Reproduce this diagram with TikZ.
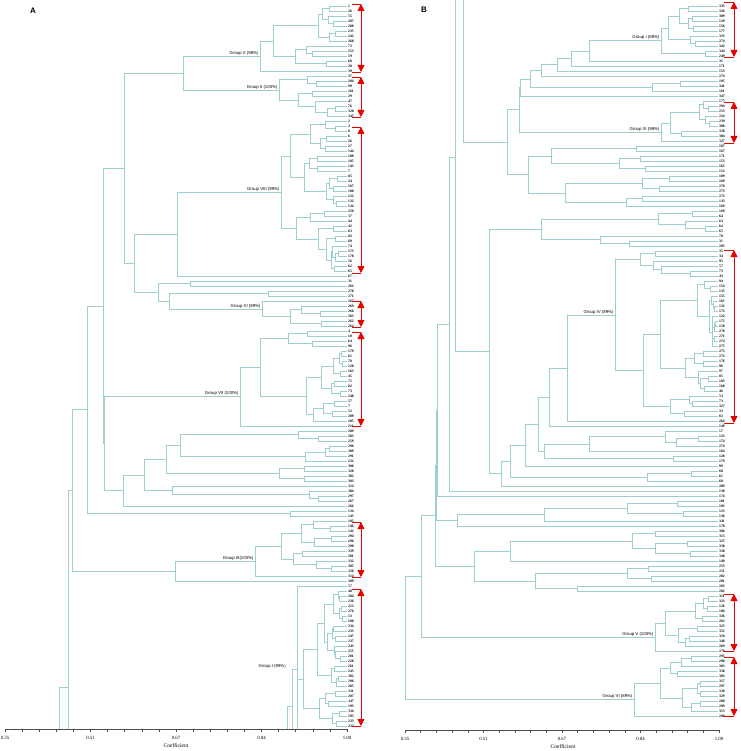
\documentclass[tikz,border=0pt]{standalone}
\usepackage{fontspec}
\setmainfont{Liberation Serif}
\newfontfamily\sansf{Liberation Sans}
\usetikzlibrary{calc,arrows.meta}
\definecolor{treec}{RGB}{158,206,206}
\definecolor{arrc}{RGB}{230,0,0}
% join two children at x = #2 ; new coordinate #1
\newcommand\djn[4]{%
  \coordinate (jx) at (#2,0);%
  \draw[tln] (#3) -- (#3 -| jx) -- (#4 -| jx) -- (#4);%
  \coordinate (#1) at ($(#3 -| jx)!0.5!(#4 -| jx)$);}
% generate a cluster over leaves #2#3 .. #2#4 with root at x = #5
\newcommand\dgen[5]{%
  \ifnum#3=#4\relax
    \coordinate (#1) at (#2#3);%
  \else
    \pgfmathsetmacro\gsp{int(#3+floor((#4-#3)*(0.2+0.6*rnd)))}%
    \pgfmathsetmacro\gxa{#5+(\gxmax-#5)*(0.12+0.55*rnd)}%
    \pgfmathsetmacro\gxb{#5+(\gxmax-#5)*(0.12+0.55*rnd)}%
    \edef\gnext{\noexpand\dgen{#1a}{#2}{#3}{\gsp}{\gxa}\noexpand\dgen{#1b}{#2}{\the\numexpr\gsp+1\relax}{#4}{\gxb}\noexpand\djn{#1}{#5}{#1a}{#1b}}%
    \gnext
  \fi}
\newcommand\redarr[4]{%
  \draw[ra] (#2,#3) -- (#1,#3) (#2,#4) -- (#1,#4);%
  \draw[ra,{Triangle[width=7pt,length=7pt]}-{Triangle[width=7pt,length=7pt]}] (#1,#3) -- (#1,#4);}
\begin{document}
\begin{tikzpicture}[x=1pt,y=-1pt,
  tln/.style={draw=treec,line width=0.55pt},
  lflab/.style={anchor=west,inner sep=0pt,font=\bfseries\fontsize{3.7}{3.7}\selectfont},
  grplab/.style={anchor=south east,inner sep=0.6pt,font=\sansf\fontsize{4.3}{4.3}\selectfont},
  axln/.style={draw=black!70,line width=0.5pt},
  ticklab/.style={font=\fontsize{4.8}{4.8}\selectfont,inner sep=0pt},
  ra/.style={draw=arrc,line width=0.8pt}]
\useasboundingbox (0,0) rectangle (740,751);
\fill[white] (0,0) rectangle (740,751);
\pgfmathsetseed{11}
% ---------------- leaves panel A
\foreach \t [count=\k] in {1,26,55,287,288,235,242,268,73,253,59,60,28,39,
 37,284,99,161,29,47,76,320,345,
 2,3,8,6,26,27,144,108,105,143,7,85,24,167,100,122,132,124,250,37,44,42,63,83,69,74,173,178,56,62,65,
 67,31,262,270,271,
 267,269,268,263,262,264,
 4,10,64,96,179,61,78,128,163,45,71,82,73,248,57,7,52,209,205,211,
 289,283,259,296,309,291,232,300,328,302,303,314,304,297,267,266,134,143,
 105,146,142,294,296,298,339,281,332,305,320,314,389,
 57,48,284,236,213,276,53,100,334,233,247,237,243,255,281,228,261,245,302,296,285,331,287,347,193,334,193,233,232}
 {\coordinate (a\k) at (346.5,{1+5*\k});
  \node[lflab] (la\k) at (348,{1+5*\k}) {\t};}
% ---------------- leaves panel B
\foreach \t [count=\k] in {333,336,309,129,156,177,333,274,342,344,249,
 31,171,153,274,195,341,161,347,
 177,294,253,224,239,308,338,304,327,
 187,167,171,153,165,152,189,169,278,273,272,133,169,169,64,63,64,65,78,31,205,
 35,34,95,57,73,43,94,154,135,155,165,132,173,122,175,158,278,271,274,275,273,272,176,96,97,85,183,168,46,53,73,327,33,61,264,
 149,17,123,174,274,164,128,179,99,60,61,68,209,138,174,101,103,123,136,341,178,306,315,325,330,338,340,149,253,251,202,201,203,202,
 311,323,126,106,336,263,325,352,318,348,269,278,
 295,290,303,330,303,317,297,330,329,288,299,313,288}
 {\coordinate (b\k) at (717.5,{1+5*\k});
  \node[lflab] (lb\k) at (719,{1+5*\k}) {\t};}
% ---------------- tree panel A
\def\gxmax{344}
\dgen{q1}{a}{1}{13}{273}
\djn{GX}{260}{q1}{a14}
\dgen{q2}{a}{15}{23}{279}
\djn{J1}{183}{GX}{q2}
\dgen{q3}{a}{24}{41}{290}
\dgen{q4}{a}{42}{54}{296}
\djn{GVIII}{281}{q3}{q4}
\djn{N177}{177}{GVIII}{a55}
\djn{P190}{190}{a56}{a57}
\djn{P268}{268}{a58}{a59}
\dgen{q5}{a}{61}{65}{290}
\djn{GXI}{262}{a60}{q5}
\djn{N169}{169}{P268}{GXI}
\djn{N158}{158}{P190}{N169}
\djn{J3}{134}{N177}{N158}
\djn{J2}{124}{J1}{J3}
\dgen{q6}{a}{66}{84}{260}
\djn{GVII}{240}{q6}{a85}
\dgen{q7}{a}{86}{88}{298}
\dgen{q8}{a}{89}{92}{305}
\dgen{q10}{a}{93}{96}{279}
\djn{N1}{180}{q7}{q8}
\djn{N1b}{166}{N1}{q10}
\dgen{q11}{a}{98}{100}{309}
\djn{N3}{172}{a97}{q11}
\djn{N2}{144}{N1b}{N3}
\djn{J7}{123}{N2}{a101}
\djn{J6}{104}{GVII}{J7}
\djn{J5}{103}{J2}{J6}
\djn{P134}{290}{a102}{a103}
\djn{N87}{87}{J5}{P134}
\dgen{q12}{a}{104}{114}{281}
\djn{GIII}{255}{q12}{a115}
\djn{N175}{175}{GIII}{a116}
\djn{N72}{72}{N87}{N175}
\dgen{q9}{a}{118}{145}{303}
\djn{GI}{297}{a117}{q9}
\coordinate (c68) at (68,0);
\draw[tln] (N72) -- (N72 -| c68) -- (68,729);
\draw[tln] (59,729) -- (59,687) -- (68,687);
\draw[tln] (GI) -- (297,729);
\draw[tln] (292,729) -- (292,669) -- (297,669);
\draw[tln] (287,729) -- (287,706) -- (292,706);
% ---------------- tree panel B
\def\gxmax{716}
\dgen{q13}{b}{1}{9}{668}
\dgen{q14}{b}{10}{11}{705}
\djn{GIB}{661}{q13}{q14}
\djn{C1}{589}{GIB}{b12}
\djn{C2}{571}{C1}{b13}
\djn{C3}{557}{C2}{b14}
\djn{C4}{541}{C3}{b15}
\dgen{q15}{b}{16}{18}{652}
\djn{C5}{530}{C4}{q15}
\djn{C6}{520}{C5}{b19}
\dgen{q16}{b}{20}{27}{670}
\djn{GIX}{661}{q16}{b28}
\djn{C7}{519}{C6}{GIX}
\dgen{q17}{b}{29}{41}{528}
\djn{S}{507}{C7}{q17}
\dgen{q18}{b}{42}{49}{541}
\dgen{q19}{b}{50}{55}{640}
\dgen{q20}{b}{56}{78}{660}
\dgen{q21}{b}{79}{83}{670}
\djn{L4}{643}{q20}{q21}
\djn{G4c}{615}{q19}{L4}
\djn{G4}{567}{G4c}{b84}
\djn{E1}{549}{G4}{b85}
\dgen{q22}{b}{86}{89}{665}
\djn{CLa}{589}{q22}{b90}
\dgen{q23}{b}{91}{92}{673}
\djn{CL}{544}{CLa}{q23}
\djn{E2}{538}{E1}{CL}
\djn{E3}{525}{E2}{b93}
\dgen{q24}{b}{94}{96}{647}
\djn{E4}{510}{E3}{q24}
\djn{E5}{501}{E4}{b97}
\djn{N489}{489}{q18}{E5}
\coordinate (T455) at (455,157);
\djn{W}{449}{T455}{b98}
\djn{V1}{437}{W}{b99}
\dgen{q25}{b}{100}{103}{627}
\djn{X1a}{544}{q25}{b104}
\djn{X1}{457}{X1a}{b105}
\djn{V2}{436}{V1}{X1}
\dgen{q26}{b}{106}{111}{632}
\djn{X2a}{510}{q26}{b112}
\dgen{q27}{b}{113}{118}{535}
\djn{X2}{474}{X2a}{q27}
\djn{V}{435}{V2}{X2}
\dgen{q28}{b}{119}{129}{665}
\djn{GV}{655}{q28}{b130}
\djn{U}{421}{V}{GV}
\dgen{q29}{b}{131}{142}{660}
\djn{GVI}{634}{q29}{b143}
\djn{R}{405}{U}{GVI}
\coordinate (c455) at (455,0);
\coordinate (c463) at (463,0);
\draw[tln] (S) -- (S -| c463) -- (c463);
\draw[tln] (N489) -- (N489 -| c455) -- (c455);
% ---------------- group labels
\node[grplab] (lX) at ([xshift=-0.8pt]GX) {Group X (98\%)};
\node[grplab] (lII) at ([xshift=-0.8pt]q2) {Group II (100\%)};
\node[grplab] (lVIII) at ([xshift=-0.8pt]GVIII) {Group VIII (99\%)};
\node[grplab] (lXI) at ([xshift=-0.8pt]GXI) {Group XI (99\%)};
\node[grplab] (lVII) at ([xshift=-0.8pt]GVII) {Group VII (100\%)};
\node[grplab] (lIII) at ([xshift=-0.8pt]GIII) {Group III(100\%)};
\node[grplab] (lI) at (286.5,669.5) {Group I (99\%)};
\node[grplab] (mI) at ([xshift=-0.8pt]GIB) {Group I (88\%)};
\node[grplab] (mIX) at ([xshift=-0.8pt]GIX) {Group IX (98\%)};
\node[grplab] (mIV) at ([xshift=-0.8pt]G4c) {Group IV (89\%)};
\node[grplab] (mV) at ([xshift=-0.8pt]GV) {Group V (100\%)};
\node[grplab] (mVI) at ([xshift=-0.8pt]GVI) {Group VI (89\%)};
% ---------------- red arrows
\redarr{361}{352}{4}{72}
\redarr{361}{352}{77}{117}
\redarr{361}{352}{127}{273}
\redarr{361}{352}{301}{327}
\redarr{361}{352}{332}{426}
\redarr{361}{352}{522}{577}
\redarr{361}{352}{589}{726}
\redarr{734}{724}{2}{57}
\redarr{734}{724}{102}{143}
\redarr{734}{724}{250}{423}
\redarr{734}{724}{594}{651}
\redarr{734}{724}{657}{716}
% ---------------- axes
\draw[axln] (5,729) -- (347,729);
\foreach \i in {0,...,20} \draw[axln] ({5+17.1*\i},729) -- ++(0,2.5);
\foreach \v/\i in {0.35/0,0.51/5,0.67/10,0.84/15,1.00/20}
  \node[ticklab] (ta\i) at ({5+17.1*\i},738) {\v};
\node[font=\fontsize{5.5}{5.5}\selectfont,inner sep=0pt] (coefA) at (176,746) {Coefficient};
\draw[axln] (405,730) -- (719,730);
\foreach \i in {0,...,20} \draw[axln] ({405+15.7*\i},730) -- ++(0,2.5);
\foreach \v/\i in {0.35/0,0.51/5,0.67/10,0.84/15,1.00/20}
  \node[ticklab] (tb\i) at ({405+15.7*\i},738.5) {\v};
\node[font=\fontsize{5.5}{5.5}\selectfont,inner sep=0pt] (coefB) at (563,747) {Coefficient};
% ---------------- panel letters
\node[font=\sansf\bfseries\fontsize{8}{8}\selectfont,inner sep=0pt] (pA) at (33,11) {A};
\node[font=\sansf\bfseries\fontsize{8}{8}\selectfont,inner sep=0pt] (pB) at (424,10) {B};
\end{tikzpicture}
\end{document}
